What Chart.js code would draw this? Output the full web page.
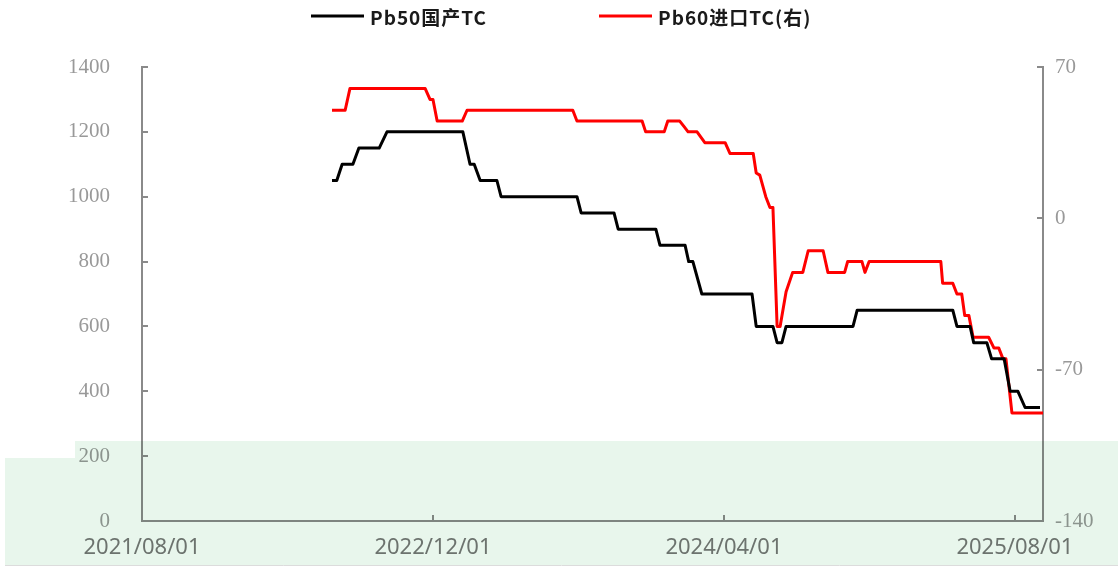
<!DOCTYPE html>
<html>
<head>
<meta charset="utf-8">
<script src="https://cdn.jsdelivr.net/npm/chart.js@4.4.1/dist/chart.umd.min.js"></script>
<style>
html,body{margin:0;padding:0;background:#fff;}
#wrap{width:1118px;height:570px;position:relative;}
</style>
</head>
<body>
<div id="wrap"><canvas id="c" width="1118" height="570"></canvas></div>
<script>
// ---- data ----
const seriesNames = ['Pb50国产TC', 'Pb60进口TC(右)'];
const xTickDates = ['2021-08-01', '2022-12-01', '2024-04-01', '2025-08-01'];
const xRange = ['2021-08-01', '2025-09-17'];
const leftTicks = [0, 200, 400, 600, 800, 1000, 1200, 1400];
const rightTicks = [-140, -70, 0, 70];

const pb50Dates = ['2022-06-15','2022-06-23','2022-07-02','2022-07-20','2022-07-30','2022-09-02','2022-09-15','2023-01-20','2023-02-01','2023-02-08','2023-02-18','2023-03-18','2023-03-25','2023-07-30','2023-08-06','2023-09-30','2023-10-07','2023-12-09','2023-12-16','2024-01-27','2024-02-02','2024-02-09','2024-02-24','2024-05-18','2024-05-25','2024-06-22','2024-06-29','2024-07-07','2024-07-14','2024-11-03','2024-11-10','2025-04-19','2025-04-26','2025-05-18','2025-05-24','2025-06-15','2025-06-23','2025-07-14','2025-07-24','2025-08-06','2025-08-18','2025-09-12'];
const pb50Values = [1050,1050,1100,1100,1150,1150,1200,1200,1100,1100,1050,1050,1000,1000,950,950,900,900,850,850,800,800,700,700,600,600,550,550,600,600,650,650,600,600,550,550,500,500,400,400,350,350];

const pb60Dates = ['2022-06-15','2022-07-07','2022-07-15','2022-11-18','2022-11-26','2022-12-01','2022-12-08','2023-01-19','2023-01-27','2023-07-23','2023-07-30','2023-11-16','2023-11-22','2023-12-23','2023-12-29','2024-01-18','2024-01-25','2024-02-01','2024-02-16','2024-02-29','2024-04-03','2024-04-11','2024-05-20','2024-05-25','2024-05-31','2024-06-10','2024-06-17','2024-06-22','2024-06-29','2024-07-04','2024-07-14','2024-07-25','2024-08-11','2024-08-20','2024-09-14','2024-09-22','2024-10-20','2024-10-25','2024-11-18','2024-11-23','2024-11-30','2025-03-30','2025-04-02','2025-04-19','2025-04-26','2025-05-04','2025-05-09','2025-05-16','2025-05-23','2025-06-18','2025-06-27','2025-07-05','2025-07-12','2025-07-17','2025-07-27','2025-09-17'];
const pb60Values = [50,50,60,60,55,55,45,45,50,50,45,45,40,40,45,45,42.5,40,40,35,35,30,30,21,20,10,5,5,-50,-50,-34,-25,-25,-15,-15,-25,-25,-20,-20,-25,-20,-20,-30,-30,-35,-35,-45,-45,-55,-55,-60,-60,-65,-65,-90,-90];

// ---- styles ----
const axisColor = '#8a8a8a';
const seriesColors = ['#000000', '#ff0000'];

function toPoints(dates, values) {
  return dates.map((d, i) => ({ x: Date.parse(d), y: values[i] }));
}
function fmtDate(v) {
  const d = new Date(v);
  const p = n => String(n).padStart(2, '0');
  return d.getUTCFullYear() + '/' + p(d.getUTCMonth() + 1) + '/' + p(d.getUTCDate());
}

const decor = {
  id: 'decor',
  afterDraw(chart) {
    const { ctx, chartArea: a, scales } = chart;
    ctx.save();
    // inner tick marks
    ctx.strokeStyle = axisColor;
    ctx.lineWidth = 2;
    const L = 6;
    scales.yL.ticks.forEach(t => {
      const y = Math.round(scales.yL.getPixelForValue(t.value));
      ctx.beginPath(); ctx.moveTo(a.left, y); ctx.lineTo(a.left + L, y); ctx.stroke();
    });
    scales.yR.ticks.forEach(t => {
      const y = Math.round(scales.yR.getPixelForValue(t.value));
      ctx.beginPath(); ctx.moveTo(a.right, y); ctx.lineTo(a.right - L, y); ctx.stroke();
    });
    scales.x.ticks.forEach(t => {
      const x = Math.round(scales.x.getPixelForValue(t.value));
      ctx.beginPath(); ctx.moveTo(x, a.bottom); ctx.lineTo(x, a.bottom - L); ctx.stroke();
    });
    // legend
    const legendItems = [
      { x1: 311, x2: 364, tx: 370 },
      { x1: 599, x2: 652, tx: 658 }
    ];
    ctx.font = 'bold 19px "Noto Sans CJK SC", "Noto Sans", sans-serif';
    ctx.textBaseline = 'middle';
    ctx.textAlign = 'left';
    if ('letterSpacing' in ctx) ctx.letterSpacing = '1px';
    chart.data.datasets.forEach((ds, i) => {
      const it = legendItems[i];
      ctx.strokeStyle = ds.borderColor;
      ctx.lineWidth = 3;
      ctx.beginPath(); ctx.moveTo(it.x1, 16); ctx.lineTo(it.x2, 16); ctx.stroke();
      ctx.fillStyle = '#1a1a1a';
      ctx.fillText(ds.label, it.tx, 18);
    });
    if ('letterSpacing' in ctx) ctx.letterSpacing = '0px';
    // light green overlay band
    ctx.globalCompositeOperation = 'multiply';
    ctx.fillStyle = '#e8f6ec';
    ctx.beginPath();
    ctx.moveTo(75, 441); ctx.lineTo(1118, 441); ctx.lineTo(1118, 565);
    ctx.lineTo(5, 565); ctx.lineTo(5, 458); ctx.lineTo(75, 458); ctx.closePath();
    ctx.fill();
    ctx.globalCompositeOperation = 'source-over';
    ctx.strokeStyle = '#dcdcdc'; ctx.lineWidth = 1;
    ctx.beginPath(); ctx.moveTo(5, 565.5); ctx.lineTo(1118, 565.5); ctx.stroke();
    ctx.restore();
  }
};

new Chart(document.getElementById('c'), {
  type: 'line',
  data: {
    datasets: [
      {
        label: seriesNames[0],
        data: toPoints(pb50Dates, pb50Values),
        yAxisID: 'yL',
        borderColor: seriesColors[0],
        backgroundColor: seriesColors[0],
        borderWidth: 3,
        pointRadius: 0,
        tension: 0,
        borderJoinStyle: 'round'
      },
      {
        label: seriesNames[1],
        data: toPoints(pb60Dates, pb60Values),
        yAxisID: 'yR',
        borderColor: seriesColors[1],
        backgroundColor: seriesColors[1],
        borderWidth: 3,
        pointRadius: 0,
        tension: 0,
        borderJoinStyle: 'round'
      }
    ]
  },
  options: {
    responsive: false,
    devicePixelRatio: 1,
    animation: false,
    layout: { padding: { top: 67, left: 0, right: 0, bottom: 0 } },
    plugins: { legend: { display: false }, tooltip: { enabled: false } },
    scales: {
      x: {
        type: 'linear',
        min: Date.parse(xRange[0]),
        max: Date.parse(xRange[1]),
        afterBuildTicks: s => { s.ticks = xTickDates.map(d => ({ value: Date.parse(d) })); },
        afterFit: s => { s.height = 49; },
        grid: { display: false, drawTicks: false },
        border: { display: true, color: axisColor, width: 2 },
        ticks: {
          autoSkip: false, maxRotation: 0, padding: 14,
          color: '#777',
          font: { family: '"Noto Sans", sans-serif', size: 22 },
          callback: v => fmtDate(v)
        }
      },
      yL: {
        type: 'linear', position: 'left',
        min: leftTicks[0], max: leftTicks[leftTicks.length - 1],
        afterBuildTicks: s => { s.ticks = leftTicks.map(v => ({ value: v })); },
        afterFit: s => { s.width = 142; },
        grid: { display: false, drawTicks: false },
        border: { display: true, color: axisColor, width: 2 },
        ticks: {
          padding: 32, color: '#999',
          font: { family: '"Liberation Serif", serif', size: 21 },
          callback: v => String(v)
        }
      },
      yR: {
        type: 'linear', position: 'right',
        min: rightTicks[0], max: rightTicks[rightTicks.length - 1],
        afterBuildTicks: s => { s.ticks = rightTicks.map(v => ({ value: v })); },
        afterFit: s => { s.width = 75; },
        grid: { display: false, drawTicks: false },
        border: { display: true, color: axisColor, width: 2 },
        ticks: {
          padding: 12, color: '#999',
          font: { family: '"Liberation Serif", serif', size: 21 },
          callback: v => String(v)
        }
      }
    }
  },
  plugins: [decor]
});
</script>
</body>
</html>
